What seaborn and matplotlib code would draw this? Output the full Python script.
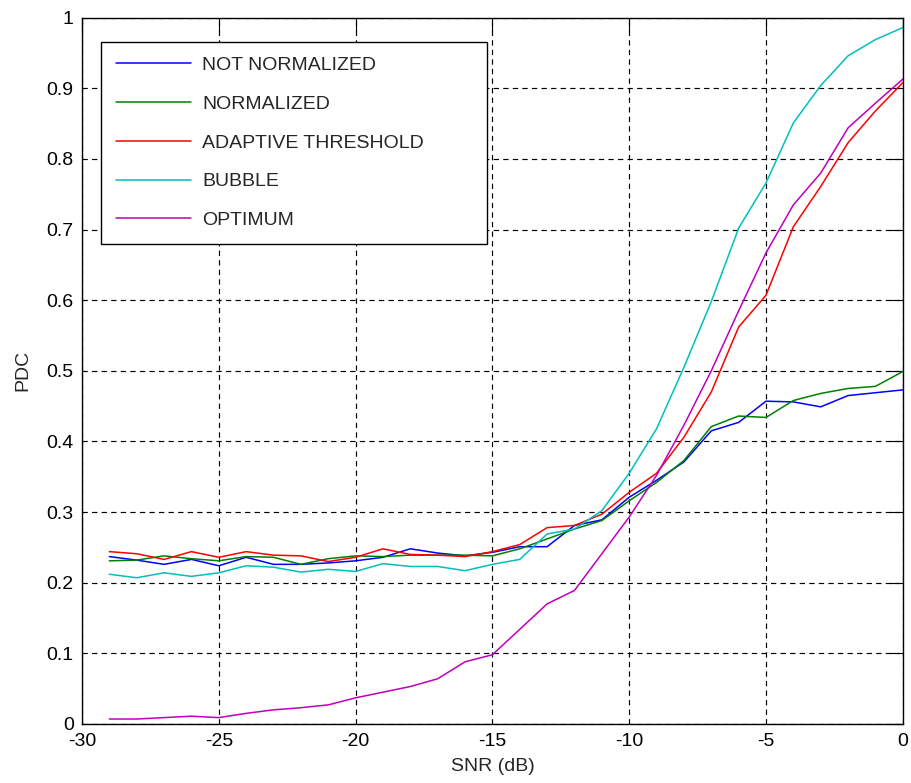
import numpy as np
import pandas as pd
import seaborn as sns
import matplotlib.pyplot as plt

# SNR grid (dB)
snr = list(range(-29, 1))

not_normalized = [0.237, 0.232, 0.226, 0.233, 0.224, 0.236, 0.226, 0.226, 0.228, 0.231,
                  0.236, 0.248, 0.242, 0.238, 0.243, 0.251, 0.251, 0.281, 0.289, 0.321,
                  0.345, 0.371, 0.415, 0.427, 0.457, 0.456, 0.449, 0.465, 0.469, 0.473]
normalized = [0.231, 0.232, 0.238, 0.234, 0.231, 0.237, 0.236, 0.226, 0.234, 0.238,
              0.237, 0.239, 0.239, 0.239, 0.238, 0.248, 0.262, 0.276, 0.288, 0.316,
              0.342, 0.373, 0.421, 0.436, 0.434, 0.458, 0.468, 0.475, 0.478, 0.499]
adaptive = [0.244, 0.241, 0.233, 0.244, 0.236, 0.244, 0.239, 0.238, 0.230, 0.236,
            0.248, 0.240, 0.239, 0.237, 0.244, 0.254, 0.278, 0.281, 0.297, 0.328,
            0.355, 0.406, 0.470, 0.562, 0.607, 0.704, 0.761, 0.823, 0.868, 0.908]
bubble = [0.212, 0.207, 0.214, 0.209, 0.214, 0.224, 0.222, 0.215, 0.219, 0.216,
          0.227, 0.223, 0.223, 0.217, 0.226, 0.233, 0.269, 0.276, 0.302, 0.355,
          0.418, 0.505, 0.598, 0.702, 0.766, 0.851, 0.904, 0.946, 0.969, 0.986]
optimum = [0.007, 0.007, 0.009, 0.011, 0.009, 0.015, 0.020, 0.023, 0.027, 0.037,
           0.045, 0.053, 0.064, 0.088, 0.098, 0.134, 0.170, 0.189, 0.241, 0.293,
           0.352, 0.423, 0.500, 0.585, 0.667, 0.735, 0.780, 0.844, 0.879, 0.913]

labels = ["NOT NORMALIZED", "NORMALIZED", "ADAPTIVE THRESHOLD", "BUBBLE", "OPTIMUM"]
colors = [(0, 0, 1), (0, 0.5, 0), (1, 0, 0), (0, 0.75, 0.75), (0.75, 0, 0.75)]

df = pd.concat([
    pd.DataFrame({"SNR": snr, "PDC": vals, "method": name})
    for name, vals in zip(labels, [not_normalized, normalized, adaptive, bubble, optimum])
])

sns.set_style("white")
plt.rcParams["font.family"] = ["Liberation Sans", "DejaVu Sans"]
plt.rcParams["axes.unicode_minus"] = False

fig = plt.figure(figsize=(9.11, 7.83), dpi=100)
ax = fig.add_axes([0.090, 0.0754, 0.901, 0.902])

sns.lineplot(data=df, x="SNR", y="PDC", hue="method", hue_order=labels,
             palette=colors, estimator=None, sort=False, linewidth=1.1, ax=ax)

ax.set_xlim(-30, 0)
ax.set_ylim(0, 1)
ax.set_xticks(np.arange(-30, 1, 5))
ax.set_yticks(np.arange(0, 1.01, 0.1))
ax.set_xticklabels(["-30", "-25", "-20", "-15", "-10", "-5", "0"])
ax.set_yticklabels(["0", "0.1", "0.2", "0.3", "0.4", "0.5", "0.6", "0.7", "0.8", "0.9", "1"])

ax.grid(True, color="black", linestyle=(0, (4.5, 3.6)), linewidth=0.85)
ax.tick_params(direction="in", length=10, width=0.8, color="black",
               top=True, right=True, labelsize=14, colors="black")
ax.tick_params(axis="y", pad=6)
ax.tick_params(axis="x", pad=6.5)
for s in ax.spines.values():
    s.set_color("black")
    s.set_linewidth(1.0)

ax.set_xlabel("SNR (dB)", fontsize=14, labelpad=6)
ax.set_ylabel("PDC", fontsize=14, labelpad=11)

handles, _ = ax.get_legend_handles_labels()
leg = ax.legend(handles, labels, loc="upper left",
                bbox_to_anchor=(0.0231, 0.70, 0.470, 0.266), mode="expand",
                borderaxespad=0, fontsize=14, handlelength=3.9, handletextpad=0.55,
                borderpad=0.75, labelspacing=1.09, fancybox=False, framealpha=1,
                edgecolor="black")
leg.get_frame().set_linewidth(1.0)

fig.savefig("out.png", dpi=100)
